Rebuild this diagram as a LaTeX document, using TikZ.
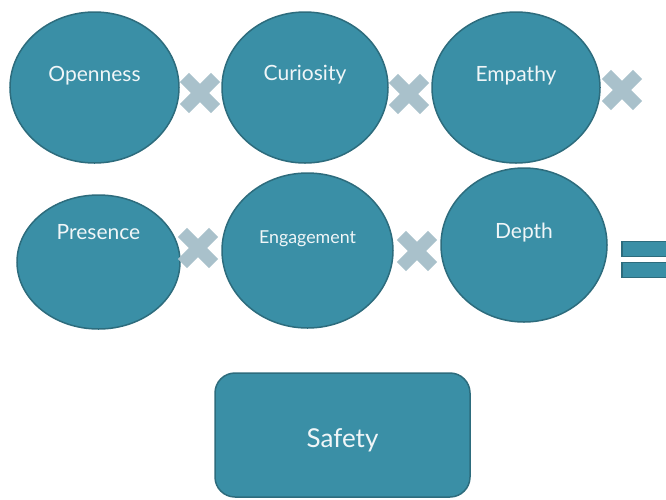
\documentclass[tikz,border=0pt]{standalone}
\usepackage{fontspec}
\setmainfont{Lato}
\usetikzlibrary{shapes.geometric}
\definecolor{blobfill}{HTML}{3A8FA6}
\definecolor{blobline}{HTML}{2D6C7D}
\definecolor{markgray}{HTML}{A9C1CB}
\definecolor{lbltext}{HTML}{F0F6F8}
\begin{document}
\begin{tikzpicture}[x=1pt,y=-1pt,
  blob/.style={ellipse, draw=blobline, fill=blobfill, line width=1.5pt, inner sep=0pt},
  lbl/.style={text=lbltext, font=\fontsize{21}{24}\selectfont},
  smalllbl/.style={text=lbltext, font=\fontsize{17.8}{21}\selectfont},
  biglbl/.style={text=lbltext, font=\fontsize{26}{30}\selectfont},
  bar/.style={rectangle, draw=blobline, fill=blobfill, line width=1.5pt, inner sep=0pt,
    minimum width=50pt, minimum height=15pt},
  result/.style={rectangle, rounded corners=20pt, draw=blobline, fill=blobfill,
    line width=1.5pt, minimum width=255pt, minimum height=124pt},
  timesmark/.pic={\fill[markgray, rotate=45] (-22,-6.5) rectangle (22,6.5)
                                            (-6.5,-22) rectangle (6.5,22);}
]
\useasboundingbox (0,0) rectangle (666,499);

% first row of qualities
\node[blob, minimum width=169pt, minimum height=151pt,
      label={[lbl,yshift=12pt]center:Openness}] (open) at (94.5,87.5) {};
\node[blob, minimum width=166pt, minimum height=151pt,
      label={[lbl,yshift=13pt]center:Curiosity}] (curi) at (305,87.5) {};
\node[blob, minimum width=168pt, minimum height=151pt,
      label={[lbl,yshift=12pt]center:Empathy}] (emp) at (516,87.5) {};

% second row of qualities
\node[blob, minimum width=163pt, minimum height=134pt,
      label={[lbl,yshift=30pt]center:Presence}] (pres) at (98.5,262) {};
\node[blob, minimum width=171pt, minimum height=155pt,
      label={[smalllbl,yshift=12pt]center:Engagement}] (eng) at (307.5,250.5) {};
\node[blob, minimum width=166pt, minimum height=154pt,
      label={[lbl,yshift=12pt]center:Depth}] (dep) at (524,245) {};

% multiplication signs
\pic (m1) at (200,93) {timesmark};
\pic (m2) at (409,94) {timesmark};
\pic (m3) at (622,90) {timesmark};
\pic (m4) at (198,248) {timesmark};
\pic (m5) at (417,251) {timesmark};

% equals sign
\node[bar] (eqtop) at (647,249) {};
\node[bar] (eqbot) at (647,270) {};

% result
\node[result, label={[biglbl,yshift=-5pt]center:Safety}] (safe) at (342.5,435) {};
\end{tikzpicture}
\end{document}
